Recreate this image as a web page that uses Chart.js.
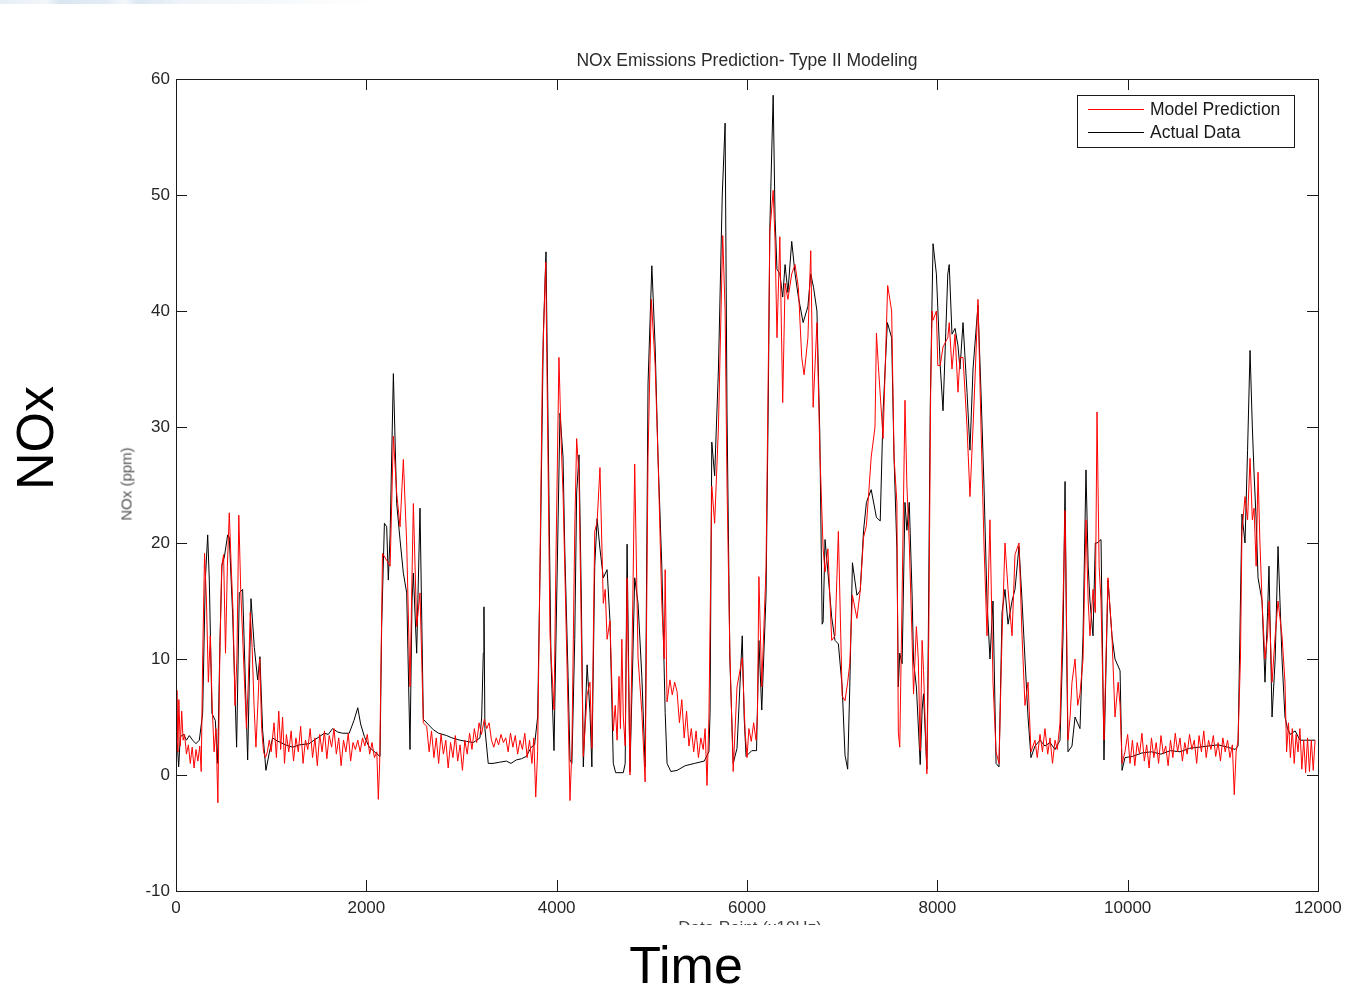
<!DOCTYPE html>
<html>
<head>
<meta charset="utf-8">
<script src="https://cdn.jsdelivr.net/npm/chart.js@4.4.1/dist/chart.umd.min.js"></script>
<style>
html,body{margin:0;padding:0;background:#fff;}
body{width:1350px;height:989px;position:relative;overflow:hidden;font-family:"Liberation Sans",Arial,sans-serif;}
#c{position:absolute;left:0;top:0;}
.strip{position:absolute;left:0;top:0;width:380px;height:4px;background:linear-gradient(90deg,#e6eef6 0%,#f2f6fa 12%,#d9e6f2 16%,#e3ecf5 28%,#f4f8fb 33%,#dbe7f3 36%,#eef4f9 48%,rgba(255,255,255,0) 100%);}
.big{position:absolute;font-size:52px;line-height:52px;color:#000;white-space:nowrap;}
#nox{left:35px;top:438px;transform:translate(-50%,-50%) rotate(-90deg);}
#time{left:686px;top:939px;transform:translateX(-50%);}
#title{position:absolute;left:747px;top:50px;transform:translateX(-50%);font-size:17.5px;line-height:21px;color:#2a2a2a;white-space:nowrap;}
#ylab{position:absolute;left:126px;top:484px;transform:translate(-50%,-50%) rotate(-90deg);font-size:15px;line-height:15px;color:#555;white-space:nowrap;}
#xclip{position:absolute;left:600px;top:910px;width:300px;height:15px;overflow:hidden;}
#xlab{position:absolute;left:0;width:300px;top:9px;text-align:center;font-size:17px;line-height:17px;color:#444;white-space:nowrap;}
</style>
</head>
<body>
<div class="strip"></div>
<canvas id="c" width="1350" height="989"></canvas>
<div id="title">NOx Emissions Prediction- Type II Modeling</div>
<div class="big" id="nox">NOx</div>
<div class="big" id="time">Time</div>
<div id="ylab">NOx (ppm)</div>
<div id="xclip"><div id="xlab">Data Point (x10Hz)</div></div>
<script>
// ---------- Data ----------
const xTicks = [0, 2000, 4000, 6000, 8000, 10000, 12000];
const yTicks = [-10, 0, 10, 20, 30, 40, 50, 60];
const seriesNames = ['Model Prediction', 'Actual Data'];

// Actual Data (black)
const actualX = [
0,15,28,45,80,110,140,175,210,245,280,308,333,350,378,413,438,462,483,508,543,560,595,637,665,700,728,753,788,823,858,882,910,945,980,1015,
1050,1100,1150,1225,1300,1400,1450,1505,1560,1600,1645,1700,1750,1820,1870,1910,1940,1980,2030,2100,2144,
2161,2190,2214,2231,2250,2284,2319,2354,2389,2424,2459,2480,2494,2529,2564,2599,2669,
2704,2760,2844,2900,2984,3050,3124,3194,3212,3229,3236,3246,3281,3331,3400,3471,3520,3576,3630,3681,3733,3768,
3800,3830,3860,3888,3910,3940,3972,4000,4035,4067,4085,4120,4140,4160,
4190,4210,4235,4260,4280,4320,4350,4370,4400,4425,4455,4490,4530,4560,4595,4620,4700,4720,4740,4770,4800,4820,4855,4895,4930,4960,5000,5035,5065,5105,5140,5160,
5200,5265,5350,5450,5550,5600,5612,5630,5660,5700,5740,5770,5790,5820,5855,5895,5950,5970,5990,6050,6100,
6125,6155,6200,6225,6240,6275,6295,6315,6345,6375,6400,6430,6470,6505,6540,6590,6640,6670,6700,6735,6765,6790,6800,6820,6850,6890,6925,6960,7000,7030,7058,
7080,7108,7155,7190,7225,7255,7305,7360,7400,7430,7475,7520,7545,7575,7590,7605,7630,7660,7680,7705,7735,7750,7780,7820,7840,7855,7890,7905,7925,7945,7955,7990,8030,8060,8110,
8125,8154,8186,8217,8238,8270,8312,8343,8375,8427,8459,8490,8522,8553,8585,8617,8648,8680,8711,8743,8785,8816,8858,8890,8921,8953,8984,9026,9079,
9131,9184,9237,9289,9321,9342,9360,9373,9415,9447,9499,9531,9562,9585,9604,9636,9660,9678,9720,9751,9793,9835,9867,9920,9941,9972,
10050,10150,10250,10350,10450,10550,10650,10750,10850,10950,11050,11130,
11160,11185,11201,11233,11260,11286,11310,11328,11350,11370,11412,11443,11470,11485,11517,11550,11580,11622,11653,11680,11706,11760,11811,11870,11916,11969];
const actualY = [
3.0,2.5,0.7,3.3,3.5,3.0,3.4,3.0,2.7,3.0,5.3,16.8,20.7,16.8,5.3,4.7,1.0,11.6,18.1,18.8,20.7,20.5,13.9,2.4,15.7,16.0,8.2,1.3,15.2,11.0,8.2,10.2,3.9,0.4,1.9,3.2,
3.0,2.8,2.6,2.4,2.6,2.7,3.0,3.3,3.6,3.5,4.0,3.7,3.6,3.6,4.7,5.8,4.4,3.3,2.4,1.9,1.6,
12.8,21.7,21.4,16.8,20.8,34.6,23.4,20.3,17.4,15.7,2.2,15.0,17.4,10.5,23.0,4.8,4.2,
3.9,3.6,3.4,3.2,3.0,2.9,2.8,3.2,5.0,10.5,14.5,4.0,1.0,1.0,1.1,1.2,1.0,1.3,1.4,1.6,2.4,2.6,
5,20,38,45.1,30,10,2.1,15,31.2,27.4,19.5,8.5,1.3,1.0,
11.7,24.3,27.6,14.8,0.7,9.5,5.4,0.7,18.0,22.1,19.5,17.0,17.7,13.3,1.0,0.2,0.2,1.0,19.9,0.3,10,17.0,14.8,8.5,0.7,33.7,43.9,36.9,27.4,18.0,5.4,1.0,
0.3,0.4,0.8,1.0,1.2,2.0,5.4,28.7,25.8,35,50,56.2,31.3,10.0,1.0,2.3,12.0,5,1.6,2.1,2.1,
11.6,5.6,15.5,33.3,47.2,58.6,48.0,43.6,43.2,41.2,44.0,41.6,46.0,43.2,41.2,39.0,40.4,43.2,42,40.0,29.4,13,13.2,20.3,17.5,13.6,11.6,11.3,7.6,1.7,0.5,
7.6,18.3,15.5,15.9,21.1,23.5,24.6,22.2,21.9,31.3,39.0,37.7,27.4,19.5,7.6,10.5,9.6,23.5,21.1,23.5,15.5,9.8,7.6,0.9,5.6,7,0.5,11.6,31.4,41.2,45.8,43.2,35.3,31.4,43.2,
44.0,38,38.5,37,35,39,33,28,35,40.5,33,25,15,10,15,1.0,0.7,14,16,13,15,16,19.7,15,10,5,1.5,2.5,3.0,
2.5,2.8,2.2,3.0,12,25.3,10,2.0,2.5,5,4,12,26.3,18,15,12,20,20,20.3,1.3,16.8,12,10,9,0.4,1.5,
1.6,1.9,2.0,1.8,2.1,2.0,2.3,2.4,2.5,2.6,2.4,2.2,
2.5,15,22.5,20,28,36.6,30,26,22,17,15,8,14,18,5,10,19.7,10,5,4,3.5,3.8,3.0,3.0,3.0,3.0];

// Model Prediction (red)
const predX = [
0,10,20,30,45,60,75,90,110,130,150,170,190,210,230,250,265,280,300,320,340,360,380,400,420,440,460,480,500,520,540,560,580,600,620,640,660,680,700,720,740,760,780,800,820,840,860,880,900,920,940,960,980,
1000,1030,1055,1080,1100,1120,1140,1160,1185,1210,1235,1260,1285,1310,1335,1360,1385,1410,1435,1460,1485,1510,1535,1560,1585,1610,1635,1660,1685,1710,1735,1760,1785,1810,1835,1860,1885,1910,1935,1960,1985,2010,2035,2060,2085,2110,2126,2140,
2170,2214,2250,2284,2319,2354,2389,2424,2459,2494,2529,2564,2599,2634,
2660,2685,2710,2735,2760,2785,2810,2835,2860,2885,2910,2935,2960,2985,3010,3035,3060,3085,3110,3135,3160,3185,3210,3240,3265,3290,3315,3340,3365,3390,3415,3440,3465,3490,3515,3540,3565,3590,3615,3640,3665,3690,3715,3740,3760,3780,3800,
3820,3850,3885,3905,3930,3972,3995,4024,4050,4067,4085,4120,4140,4160,
4190,4210,4235,4260,4280,4320,4350,4370,4400,4425,4455,4490,4510,4530,4560,4595,4615,4635,4655,4670,4685,4700,4720,4740,4770,4800,4820,4855,4895,4930,4960,4995,5035,5065,5105,5130,5140,5160,
5190,5215,5240,5265,5290,5315,5340,5365,5390,5415,5440,5465,5490,5515,5540,5560,5580,5600,5630,5660,5700,5745,5770,5790,5820,5855,5895,5950,5980,6000,6020,6045,6070,6095,
6110,6125,6155,6200,6240,6275,6295,6315,6345,6375,6400,6430,6470,6505,6540,6575,6600,6640,6670,6695,6735,6765,6800,6820,6850,6890,6925,6960,7000,7030,7058,
7080,7108,7155,7190,7225,7255,7305,7345,7360,7380,7430,7478,7520,7545,7575,7590,7605,7630,7660,7680,7705,7735,7750,7780,7800,7820,7840,7855,7890,7910,7930,7945,7955,7990,8005,8030,8060,8110,
8125,8154,8186,8217,8238,8270,8312,8343,8375,8400,8427,8459,8490,8522,8553,8585,8617,8648,8680,8711,8743,8785,8816,8858,8890,8921,8953,8984,9026,
9050,9079,9105,9131,9160,9184,9210,9237,9260,9289,9321,9342,9360,9373,9395,9415,9447,9475,9499,9531,9562,9585,9604,9636,9660,9678,9700,9720,9751,9793,9835,9867,9900,9920,9941,
9972,10000,10025,10050,10075,10100,10125,10150,10175,10200,10225,10250,10275,10300,10325,10350,10375,10400,10425,10450,10475,10500,10525,10550,10575,10600,10625,10650,10675,10700,10725,10750,10775,10800,10825,10850,10875,10900,10925,10950,10975,11000,11025,11050,11075,11100,11120,11140,
11160,11185,11201,11233,11260,11286,11310,11328,11350,11370,11390,11412,11443,11470,11485,11517,11550,11580,11622,11653,11670,11690,11710,11730,11750,11770,11790,11810,11830,11850,11870,11890,11910,11930,11950,11969];
const predY = [
3,7.3,2,6.5,2.5,5.5,3,3.5,1.8,2.6,1.0,2.4,0.6,2.2,1.2,2.5,0.3,10,19.1,15,8,12,6,2,4,-2.4,10,18,19,10.5,18,22.6,18,14,6,10,22.4,16,12,8,4,8,14,11,6,2.4,6,10,4,2,1.5,2,3.0,
2.0,4.5,1.5,5.5,2.2,5.0,1.0,3.5,2.0,3.8,1.2,3.2,2.0,4.2,1.0,3.0,2.2,4.0,1.5,3.2,0.8,3.5,2.0,3.8,1.4,3.4,2.4,4.0,1.8,3.2,0.8,3.0,2.0,3.6,1.2,2.8,2.2,3.0,2.0,3.2,2.5,3.5,1.8,2.8,1.5,2.0,-2.1,1.0,
19.1,18.5,18,29.2,24.3,21.4,27.2,20,7.6,23.4,12.8,15.7,4.5,4.2,
2.0,3.8,1.5,3.2,1.0,3.5,1.8,3.0,0.6,2.8,1.5,3.4,1.2,2.6,0.4,3.0,1.8,3.6,2.2,4.0,2.8,4.5,3.5,4.8,4.0,4.5,3.0,2.4,3.2,2.6,3.5,2.8,3.2,2.0,3.6,2.4,3.4,1.8,3.0,2.2,3.6,1.5,3.0,1.0,3.2,-1.9,2.0,
15,35,44.2,30,12,5.6,20,36,28,24.3,18,5.4,-2.2,2.3,
21.1,29,25.8,11.7,1.6,6.9,8,2.3,21,21.8,26.5,14.8,16,11.7,13.3,3.8,6,3,8.5,4,11.7,5,2.5,17,0,15,26.8,10.1,5.4,-0.6,27.4,41,35.3,27.4,14.8,10,17.7,6.3,
8.2,6.9,8.0,7.2,4.5,6.5,3.2,5.5,2.5,4.0,2.0,3.8,1.5,3.2,2.2,4.0,-0.9,5,24.9,21.7,30,46.5,40,25,10.5,0.3,7.6,10.1,3.8,1.5,4.0,2.9,4.5,3.0,
5.2,17.1,7.6,17.9,46.8,50.4,46,37.7,46.4,32.1,42.4,41,43.2,44,42,36,34.5,37.7,45.2,31.7,39,28,19.5,17.5,19.5,11.6,12,21,6.8,6.4,8,
9.6,15.5,13.5,15.9,20.5,21.5,27.4,30,38.1,35.3,29,42.2,40,27.4,23.5,3.7,2.4,15.5,32.3,25,20,11.6,7,12.8,10,2.1,11.6,9,0.1,12,33,40,39.2,40,35.3,35.3,36.9,37.7,
39,35,38,33,36,36,30,24,30,35,41,30,20,12,22,8,2,1,12,20,16,12,19,20,12,6,8,2,3,
1.5,3.5,2.0,4.0,1.8,3.2,1.0,3.0,2.2,4.5,15,22.8,12,3,5,8,10,6,7,10,22,15,12,16,14,31.3,18,15,3,17,12,5,8,6,1,
2.0,3.5,1.0,3.0,0.8,2.8,1.8,3.6,1.2,2.6,0.6,3.2,1.5,2.8,1.0,3.4,1.8,2.5,0.8,3.0,1.5,3.6,2.0,3.2,1.2,2.8,1.8,3.5,2.2,3.0,1.0,3.4,2.0,3.8,1.5,3.0,2.2,3.4,1.6,2.8,1.2,3.2,2.0,3.0,1.5,2.6,-1.7,2.0,
3,10,21,24,22,27.3,22,23,18,26.1,20,15,10,12,15,8,12,15,12,8,2,4.5,1.5,4,1.0,3.5,2.0,4.0,0.5,3.0,0.2,3.2,0.3,3.0,0.4,3.0];

// ---------- Chart ----------
const FONT = '"Liberation Sans", Arial, sans-serif';
const toPoints = (xs, ys) => xs.map((x, i) => ({x: x, y: ys[i]}));

const framePlugin = {
  id: 'frame',
  afterDraw(chart) {
    const ctx = chart.ctx;
    const a = chart.chartArea;
    const xs = chart.scales.x, ys = chart.scales.y;
    ctx.save();
    ctx.strokeStyle = '#1a1a1a';
    ctx.lineWidth = 1;
    ctx.strokeRect(a.left + 0.5, a.top + 0.5, a.right - a.left, a.bottom - a.top);
    ctx.beginPath();
    xTicks.forEach(v => {
      const p = Math.round(xs.getPixelForValue(v)) + 0.5;
      ctx.moveTo(p, a.bottom); ctx.lineTo(p, a.bottom - 11);
      ctx.moveTo(p, a.top); ctx.lineTo(p, a.top + 11);
    });
    yTicks.forEach(v => {
      const p = Math.round(ys.getPixelForValue(v)) + 0.5;
      ctx.moveTo(a.left, p); ctx.lineTo(a.left + 11, p);
      ctx.moveTo(a.right, p); ctx.lineTo(a.right - 11, p);
    });
    ctx.stroke();
    // legend box (MATLAB style, inside the axes)
    const bx = 1077.5, by = 95.5, bw = 217, bh = 52;
    ctx.fillStyle = '#fff';
    ctx.fillRect(bx, by, bw, bh);
    ctx.strokeStyle = '#1a1a1a';
    ctx.strokeRect(bx, by, bw, bh);
    const cols = ['#ff0000', '#000000'];
    const rows = [109.5, 132.5];
    ctx.font = '17.5px ' + FONT;
    ctx.textBaseline = 'middle';
    ctx.textAlign = 'left';
    seriesNames.forEach((n, i) => {
      ctx.strokeStyle = cols[i];
      ctx.beginPath();
      ctx.moveTo(1088, rows[i]); ctx.lineTo(1144, rows[i]);
      ctx.stroke();
      ctx.fillStyle = '#1a1a1a';
      ctx.fillText(n, 1150, rows[i] + 0.5);
    });
    ctx.restore();
  }
};

new Chart(document.getElementById('c'), {
  type: 'line',
  data: {
    datasets: [
      {label: seriesNames[0], data: toPoints(predX, predY), borderColor: '#ff0000', borderWidth: 1, pointRadius: 0, tension: 0, fill: false},
      {label: seriesNames[1], data: toPoints(actualX, actualY), borderColor: '#000000', borderWidth: 1, pointRadius: 0, tension: 0, fill: false}
    ]
  },
  options: {
    responsive: false,
    animation: false,
    devicePixelRatio: 1,
    layout: {padding: {left: 0, right: 32, top: 79, bottom: 0}},
    plugins: {
      legend: {display: false},
      tooltip: {enabled: false},
      title: {display: false}
    },
    scales: {
      x: {
        type: 'linear', min: 0, max: 12000,
        afterBuildTicks: s => { s.ticks = xTicks.map(v => ({value: v})); },
        ticks: {color: '#262626', font: {family: FONT, size: 17}, padding: 7, maxRotation: 0, autoSkip: false, callback: v => String(v)},
        grid: {display: false, drawTicks: false},
        border: {display: false},
        afterFit: s => { s.height = 98; }
      },
      y: {
        min: -10, max: 60,
        afterBuildTicks: s => { s.ticks = yTicks.map(v => ({value: v})); },
        ticks: {color: '#262626', font: {family: FONT, size: 17}, padding: 6, callback: v => String(v)},
        grid: {display: false, drawTicks: false},
        border: {display: false},
        afterFit: s => { s.width = 176; }
      }
    }
  },
  plugins: [framePlugin]
});
</script>
</body>
</html>
